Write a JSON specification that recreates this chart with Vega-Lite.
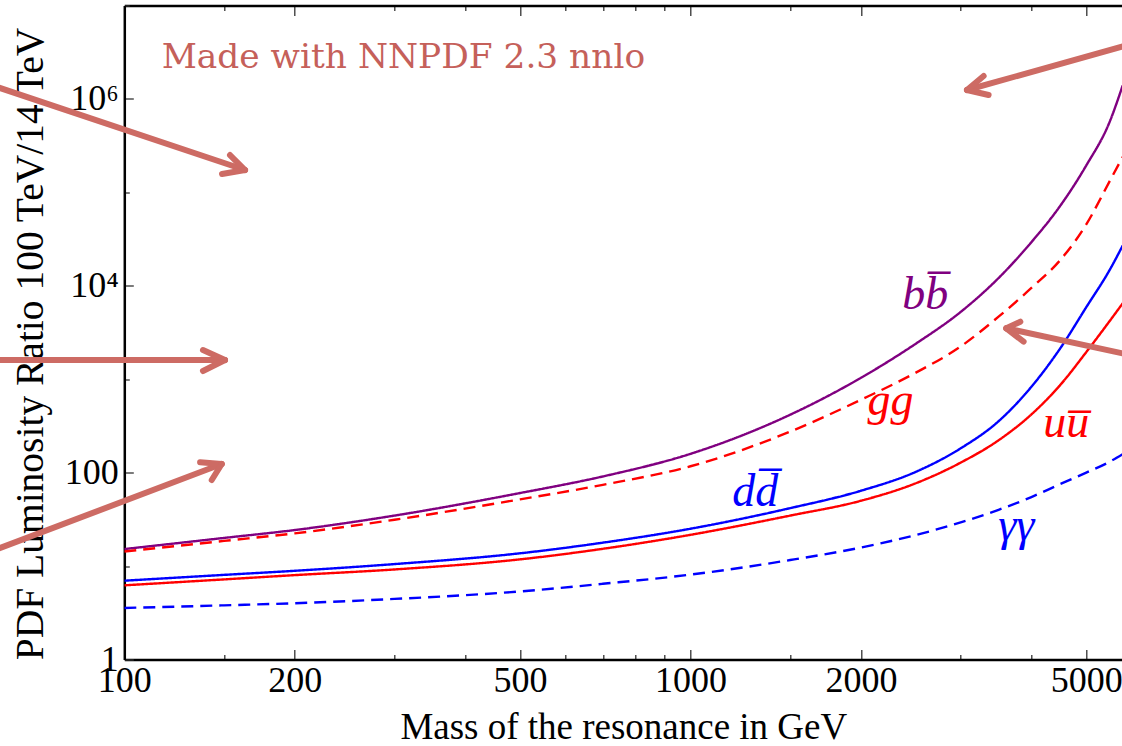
{
  "$schema": "https://vega.github.io/schema/vega-lite/v6.json",
  "width": 998,
  "height": 654,
  "autosize": {"type": "none"},
  "padding": {"left": 124.3, "top": 5.5, "right": 0, "bottom": 86.5},
  "background": "white",
  "config": {"view": {"stroke": null}, "font": "Liberation Serif", "axis": {"grid": false}},
  "datasets": {
    "curves": [
      {"s":"bb","m":100,"r":15.2},{"s":"bb","m":150,"r":20.0},{"s":"bb","m":200,"r":24.3},{"s":"bb","m":300,"r":34.7},{"s":"bb","m":500,"r":60.5},{"s":"bb","m":700,"r":91},{"s":"bb","m":1000,"r":159},{"s":"bb","m":1500,"r":417},{"s":"bb","m":2000,"r":1035},{"s":"bb","m":2500,"r":2400},{"s":"bb","m":3000,"r":5250},{"s":"bb","m":3500,"r":12100},{"s":"bb","m":4000,"r":29300},{"s":"bb","m":4500,"r":72100},{"s":"bb","m":5000,"r":194000},{"s":"bb","m":5500,"r":570000},{"s":"bb","m":5800,"r":1400000},
      {"s":"gg","m":100,"r":14.3},{"s":"gg","m":150,"r":18.6},{"s":"gg","m":200,"r":22.4},{"s":"gg","m":300,"r":31.3},{"s":"gg","m":500,"r":51.8},{"s":"gg","m":700,"r":74},{"s":"gg","m":1000,"r":117},{"s":"gg","m":1500,"r":275},{"s":"gg","m":2000,"r":603},{"s":"gg","m":2500,"r":1175},{"s":"gg","m":3000,"r":2240},{"s":"gg","m":3500,"r":4670},{"s":"gg","m":4000,"r":9480},{"s":"gg","m":4500,"r":18900},{"s":"gg","m":5000,"r":45400},{"s":"gg","m":5500,"r":132000},{"s":"gg","m":5800,"r":240000},
      {"s":"dd","m":100,"r":6.97},{"s":"dd","m":150,"r":8.05},{"s":"dd","m":200,"r":8.9},{"s":"dd","m":300,"r":10.5},{"s":"dd","m":500,"r":13.7},{"s":"dd","m":700,"r":17.8},{"s":"dd","m":1000,"r":25.1},{"s":"dd","m":1500,"r":41.7},{"s":"dd","m":2000,"r":64},{"s":"dd","m":2500,"r":102},{"s":"dd","m":3000,"r":182},{"s":"dd","m":3500,"r":355},{"s":"dd","m":4000,"r":830},{"s":"dd","m":4500,"r":2150},{"s":"dd","m":5000,"r":5900},{"s":"dd","m":5500,"r":14800},{"s":"dd","m":5800,"r":27000},
      {"s":"uu","m":100,"r":6.22},{"s":"uu","m":150,"r":7.2},{"s":"uu","m":200,"r":8.0},{"s":"uu","m":300,"r":9.2},{"s":"uu","m":500,"r":11.8},{"s":"uu","m":700,"r":15.3},{"s":"uu","m":1000,"r":21.6},{"s":"uu","m":1500,"r":34.7},{"s":"uu","m":2000,"r":50},{"s":"uu","m":2500,"r":77},{"s":"uu","m":3000,"r":128},{"s":"uu","m":3500,"r":222},{"s":"uu","m":4000,"r":420},{"s":"uu","m":4500,"r":870},{"s":"uu","m":5000,"r":1950},{"s":"uu","m":5500,"r":4200},{"s":"uu","m":5800,"r":6500},
      {"s":"aa","m":100,"r":3.56},{"s":"aa","m":150,"r":3.8},{"s":"aa","m":200,"r":4.0},{"s":"aa","m":300,"r":4.45},{"s":"aa","m":500,"r":5.35},{"s":"aa","m":700,"r":6.46},{"s":"aa","m":1000,"r":8.1},{"s":"aa","m":1500,"r":11.6},{"s":"aa","m":2000,"r":15.8},{"s":"aa","m":2500,"r":21.5},{"s":"aa","m":3000,"r":29.3},{"s":"aa","m":3500,"r":40},{"s":"aa","m":4000,"r":54.8},{"s":"aa","m":4500,"r":75.5},{"s":"aa","m":5000,"r":100},{"s":"aa","m":5500,"r":131},{"s":"aa","m":5800,"r":158}
    ],
    "labels": [
      {"s":"bb","t":"bb\u0305","m":2598,"r":5643},
      {"s":"gg","t":"gg","m":2255,"r":414},
      {"s":"dd","t":"dd\u0305","m":1301,"r":44.0},
      {"s":"uu","t":"uu\u0305","m":4611,"r":240.7},
      {"s":"aa","t":"\u03b3\u03b3","m":3762,"r":19.0}
    ],
    "arrows": [
      {"m":55.6,"r":1545000,"m2":163.4,"r2":173400},
      {"m":148.8,"r":157100,"m2":163.4,"r2":173400},
      {"m":153.7,"r":251000,"m2":163.4,"r2":173400},
      {"m":55.6,"r":1605,"m2":150.6,"r2":1605},
      {"m":137.7,"r":2054,"m2":150.6,"r2":1605},
      {"m":137.7,"r":1224,"m2":150.6,"r2":1605},
      {"m":55.6,"r":12.94,"m2":148.6,"r2":123.7},
      {"m":136.1,"r":129.1,"m2":148.6,"r2":123.7},
      {"m":142.7,"r":83.4,"m2":148.6,"r2":123.7},
      {"m":6230,"r":4107000,"m2":3078,"r2":1246000},
      {"m":3361,"r":1101000,"m2":3078,"r2":1246000},
      {"m":3294,"r":1759000,"m2":3078,"r2":1246000},
      {"m":6230,"r":1720,"m2":3612,"r2":3507},
      {"m":3875,"r":2521,"m2":3612,"r2":3507},
      {"m":3824,"r":4126,"m2":3612,"r2":3507}
    ],
    "note": [
      {"t":"Made with NNPDF 2.3 nnlo","m":116.4,"r":2130000}
    ]
  },
  "layer": [
    {
      "data": {"name": "curves"},
      "mark": {"type": "line", "strokeWidth": 2.4, "clip": true, "interpolate": "monotone"},
      "encoding": {
        "x": {"field": "m", "type": "quantitative",
          "scale": {"type": "log", "domain": [100, 5789], "nice": false, "zero": false},
          "axis": {
            "orient": "bottom",
            "values": [100,150,200,300,400,500,600,700,800,900,1000,1500,2000,3000,4000,5000],
            "format": "d",
            "labelExpr": "indexof([100,200,500,1000,2000,5000], datum.value) >= 0 ? datum.label : ''",
            "labelOverlap": false, "labelFlush": false,
            "labelFont": "Liberation Serif", "labelFontSize": 36, "labelColor": "black",
            "labelBaseline": "alphabetic", "labelPadding": 42.5,
            "tickSize": {"condition": {"test": "indexof([100,200,500,1000,2000,5000], datum.value) >= 0", "value": -10}, "value": -5},
            "tickColor": "#333", "tickWidth": 1.3,
            "domainColor": "black", "domainWidth": 2.5,
            "title": "Mass of the resonance in GeV",
            "titleFont": "Liberation Serif", "titleFontSize": 37, "titleFontWeight": "normal", "titleColor": "black",
            "titleBaseline": "alphabetic", "titleY": 79.5
          }
        },
        "y": {"field": "r", "type": "quantitative",
          "scale": {"type": "log", "domain": [1, 10000000], "nice": false, "zero": false},
          "axis": {
            "orient": "left",
            "values": [1,10,100,1000,10000,100000,1000000,10000000],
            "labelExpr": "datum.value == 1 ? '1' : datum.value == 100 ? '100' : datum.value == 10000 ? '10\u2074' : datum.value == 1000000 ? '10\u2076' : ''",
            "labelOverlap": false, "labelFlush": false,
            "labelFont": "Liberation Serif", "labelFontSize": 36, "labelColor": "black",
            "labelPadding": 15,
            "tickSize": {"condition": {"test": "datum.value == 1 || datum.value == 100 || datum.value == 10000 || datum.value == 1000000", "value": -9}, "value": -5},
            "tickColor": "#333", "tickWidth": 1.3,
            "domainColor": "black", "domainWidth": 2.5,
            "title": "PDF Luminosity Ratio 100 TeV/14 TeV",
            "titleFont": "Liberation Serif", "titleFontSize": 39.5, "titleFontWeight": "normal", "titleColor": "black",
            "titleBaseline": "alphabetic", "titleX": -82, "titleY": 338, "titleAngle": -90, "titleAlign": "center"
          }
        },
        "color": {"field": "s", "type": "nominal",
          "scale": {"domain": ["bb","gg","dd","uu","aa"], "range": ["#800080","#FF0000","#0000FF","#FF0000","#0000FF"]},
          "legend": null},
        "strokeDash": {"field": "s", "type": "nominal",
          "scale": {"domain": ["bb","gg","dd","uu","aa"], "range": [[1,0],[12,7],[1,0],[1,0],[12,7]]},
          "legend": null}
      }
    },
    {
      "data": {"name": "curves"},
      "mark": {"type": "point", "opacity": 0},
      "encoding": {
        "x": {"field": "m", "type": "quantitative",
          "scale": {"type": "log", "domain": [100, 5789], "nice": false, "zero": false},
          "axis": {
            "orient": "top",
            "values": [100,150,200,300,400,500,600,700,800,900,1000,1500,2000,3000,4000,5000],
            "labels": false, "title": null,
            "tickSize": {"condition": {"test": "indexof([100,200,500,1000,2000,5000], datum.value) >= 0", "value": -10}, "value": -5},
            "tickColor": "#333", "tickWidth": 1.3,
            "domainColor": "black", "domainWidth": 2.5
          }
        },
        "y": {"field": "r", "type": "quantitative",
          "scale": {"type": "log", "domain": [1, 10000000], "nice": false, "zero": false},
          "axis": null}
      }
    },
    {
      "data": {"name": "arrows"},
      "mark": {"type": "rule", "color": "#CD6B64", "strokeWidth": 6, "strokeCap": "round"},
      "encoding": {
        "x": {"field": "m", "type": "quantitative", "scale": {"type": "log", "domain": [100, 5789], "nice": false, "zero": false}, "axis": null},
        "y": {"field": "r", "type": "quantitative", "scale": {"type": "log", "domain": [1, 10000000], "nice": false, "zero": false}, "axis": null},
        "x2": {"field": "m2"},
        "y2": {"field": "r2"}
      }
    },
    {
      "data": {"name": "labels"},
      "mark": {"type": "text", "font": "Liberation Serif", "fontStyle": "italic", "fontSize": 46, "align": "center", "baseline": "alphabetic"},
      "encoding": {
        "x": {"field": "m", "type": "quantitative", "scale": {"type": "log", "domain": [100, 5789], "nice": false, "zero": false}, "axis": null},
        "y": {"field": "r", "type": "quantitative", "scale": {"type": "log", "domain": [1, 10000000], "nice": false, "zero": false}, "axis": null},
        "text": {"field": "t"},
        "color": {"field": "s", "type": "nominal",
          "scale": {"domain": ["bb","gg","dd","uu","aa"], "range": ["#800080","#FF0000","#0000FF","#FF0000","#0000FF"]},
          "legend": null}
      }
    },
    {
      "data": {"name": "note"},
      "mark": {"type": "text", "font": "DejaVu Serif", "fontSize": 34.4, "align": "left", "baseline": "alphabetic", "color": "#C5605A"},
      "encoding": {
        "x": {"field": "m", "type": "quantitative", "scale": {"type": "log", "domain": [100, 5789], "nice": false, "zero": false}, "axis": null},
        "y": {"field": "r", "type": "quantitative", "scale": {"type": "log", "domain": [1, 10000000], "nice": false, "zero": false}, "axis": null},
        "text": {"field": "t"}
      }
    }
  ],
  "resolve": {"axis": {"x": "independent", "y": "independent"}}
}
